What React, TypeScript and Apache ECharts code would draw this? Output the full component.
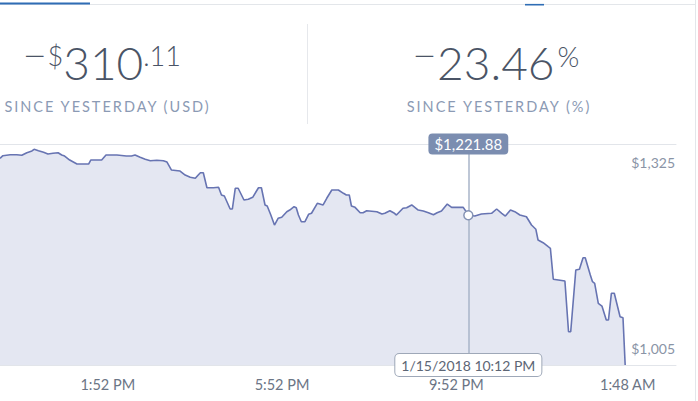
import React, { useEffect, useRef } from "react";
import * as echarts from "echarts";

// minutes since midnight, Jan 15 2018 (values > 1440 are after midnight)
const times = [
  687, 691, 701, 710, 717, 724, 731, 734, 740, 747, 753, 760, 767, 772, 776, 783, 793, 809, 812, 827,
  833, 848, 861, 868, 873, 880, 887, 894, 903, 912, 917, 923, 935, 942, 949, 956, 960, 963, 967, 972,
  981, 988, 992, 996, 1004, 1007, 1011, 1015, 1023, 1029, 1035, 1043, 1047, 1052, 1055, 1060, 1065, 1070, 1075, 1082,
  1086, 1092, 1095, 1098, 1102, 1107, 1112, 1116, 1124, 1132, 1137, 1144, 1153, 1160, 1164, 1168, 1171, 1176, 1183, 1187,
  1192, 1206, 1213, 1217, 1224, 1229, 1233, 1242, 1247, 1254, 1263, 1270, 1277, 1284, 1289, 1295, 1303, 1309, 1316, 1325,
  1330, 1332, 1341, 1350, 1364, 1371, 1378, 1383, 1390, 1396, 1403, 1412, 1419, 1425, 1428, 1435, 1442, 1445, 1449, 1456,
  1465, 1470, 1473, 1480, 1485, 1490, 1493, 1500, 1503, 1506, 1511, 1516, 1522, 1525, 1529, 1533, 1541, 1545, 1548,
];
const prices = [
  1304.3, 1308.1, 1309.5, 1309.5, 1308.6, 1312.4, 1314.9, 1317.3, 1315.3, 1313.0, 1310.5, 1311.5, 1312.4, 1309.1, 1307.6, 1301.8, 1296.0, 1296.0, 1301.8, 1301.8,
  1309.1, 1309.1, 1307.6, 1307.6, 1309.1, 1305.7, 1302.8, 1300.8, 1301.4, 1300.8, 1298.9, 1287.4, 1285.9, 1280.1, 1276.8, 1275.3, 1280.1, 1283.4, 1283.4, 1261.7,
  1261.7, 1262.3, 1251.2, 1249.7, 1230.9, 1230.9, 1260.9, 1260.9, 1243.9, 1244.9, 1247.8, 1261.7, 1261.7, 1236.7, 1235.2, 1222.2, 1207.7, 1217.4, 1218.9, 1227.0,
  1229.4, 1234.2, 1232.8, 1222.2, 1212.5, 1212.5, 1223.2, 1224.7, 1239.1, 1236.7, 1246.4, 1258.4, 1258.4, 1253.6, 1251.2, 1251.2, 1235.2, 1233.3, 1225.5, 1225.5,
  1228.4, 1227.0, 1223.6, 1224.7, 1228.4, 1225.5, 1222.2, 1231.9, 1232.8, 1236.7, 1229.4, 1228.0, 1225.5, 1222.6, 1225.5, 1228.0, 1238.1, 1233.3, 1233.3, 1233.3,
  1225.5, 1221.88, 1220.7, 1223.6, 1224.7, 1230.9, 1224.7, 1220.7, 1229.4, 1227.0, 1222.2, 1219.7, 1207.7, 1201.5, 1186.0, 1182.1, 1176.3, 1174.0, 1129.1, 1128.1,
  1126.6, 1053.2, 1053.2, 1142.6, 1143.6, 1160.4, 1160.4, 1135.3, 1125.6, 1123.3, 1094.3, 1090.4, 1070.2, 1070.2, 1108.8, 1108.8, 1074.9, 1073.5, 1005.0,
];

const tickTimes = [832, 1072, 1312, 1548];
const tickLabels = ["1:52 PM", "5:52 PM", "9:52 PM", "1:48 AM"];

const priceTicks = [1005, 1325];
const priceTickLabels = ["$1,005", "$1,325"];

const hoverTime = 1332;
const hoverPrice = 1221.88;
const hoverPriceLabel = "$1,221.88";
const hoverDateLabel = "1/15/2018 10:12 PM";

const changeUsdSign = "−";
const changeUsdCurrency = "$";
const changeUsdWhole = "310";
const changeUsdCents = ".11";
const changePctSign = "−";
const changePctValue = "23.46";
const changePctUnit = "%";
const changeUsdCaption = "SINCE YESTERDAY (USD)";
const changePctCaption = "SINCE YESTERDAY (%)";

const FONT = "Lato, 'Open Sans', sans-serif";
const DARK = "#4a5466";
const CAPTION = "#8b9ab4";

export default function App() {
  const ref = useRef<HTMLDivElement>(null);

  useEffect(() => {
    if (!ref.current) return;
    const chart = echarts.init(ref.current, undefined, { renderer: "svg" });
    const data = times.map((t, i) => [t, prices[i]]);
    const yMin = priceTicks[0];
    const yMax = priceTicks[priceTicks.length - 1];

    const bigRich = {
      m: { fontSize: 28, fontWeight: 300, fontFamily: "'DejaVu Sans', sans-serif", fill: DARK, verticalAlign: "top", padding: [2.8, 1, 0, 0] },
      s: { fontSize: 27, fontWeight: 300, fontFamily: FONT, fill: DARK, verticalAlign: "top", padding: [3.2, 0, 0, 0] },
      p: { fontSize: 28, fontWeight: 300, fontFamily: FONT, fill: DARK, verticalAlign: "top", padding: [3, 0, 0, 3] },
      b: { fontSize: 46, fontWeight: 300, fontFamily: FONT, fill: DARK, lineHeight: 46, verticalAlign: "top" },
    };

    chart.setOption({
      animation: false,
      backgroundColor: "#ffffff",
      grid: { left: 0, right: 22, top: 144, bottom: 36, containLabel: false },
      xAxis: [
        {
          type: "value",
          min: 687,
          max: 1618,
          axisLine: { show: true, lineStyle: { color: "#e2e5ea", width: 1 } },
          axisTick: { show: false },
          splitLine: { show: false },
          axisLabel: {
            customValues: tickTimes,
            formatter: (v: number) => {
              const i = tickTimes.indexOf(v);
              return i >= 0 ? tickLabels[i] : "";
            },
            color: "#6b7585",
            fontSize: 14.5,
            fontFamily: FONT,
            margin: 12,
            padding: [0, 0, 0, 5],
          },
        },
        {
          type: "value",
          position: "top",
          min: 687,
          max: 1618,
          axisLine: { show: true, lineStyle: { color: "#e2e5ea", width: 1 } },
          axisTick: { show: false },
          axisLabel: { show: false },
          splitLine: { show: false },
        },
      ],
      yAxis: {
        type: "value",
        position: "right",
        min: yMin,
        max: yMax,
        axisLine: { show: false },
        axisTick: { show: false },
        splitLine: { show: false },
        axisLabel: {
          inside: true,
          margin: 1,
          customValues: priceTicks,
          formatter: (v: number) => {
            const i = priceTicks.indexOf(v);
            const txt = i >= 0 ? priceTickLabels[i] : "";
            return v === yMax ? `{top|${txt}}` : `{bot|${txt}}`;
          },
          rich: {
            top: { padding: [36, 0, 0, 0], fontSize: 14, fontFamily: FONT, color: "#8a94a6" },
            bot: { padding: [0, 0, 34, 0], fontSize: 14, fontFamily: FONT, color: "#8a94a6" },
          },
        },
      },
      series: [
        {
          type: "line",
          xAxisIndex: 0,
          data,
          showSymbol: false,
          symbol: "none",
          lineStyle: { color: "#6774b2", width: 1.6 },
          areaStyle: { color: "#e4e7f2", opacity: 1 },
          silent: true,
          markLine: {
            silent: true,
            symbol: ["none", "none"],
            label: { show: false },
            lineStyle: { color: "#a9b5c9", width: 1.5, type: "solid" },
            data: [[{ coord: [hoverTime, yMin] }, { coord: [hoverTime, yMax] }]],
          },
          markPoint: {
            silent: true,
            data: [
              {
                coord: [hoverTime, hoverPrice],
                symbol: "circle",
                symbolSize: 9,
                itemStyle: { color: "#ffffff", borderColor: "#8593b4", borderWidth: 1.5 },
                label: { show: false },
              },
              {
                coord: [hoverTime, yMax],
                symbol: "rect",
                symbolSize: 1,
                itemStyle: { color: "rgba(0,0,0,0)" },
                label: {
                  show: true,
                  position: "inside",
                  formatter: hoverPriceLabel,
                  color: "#ffffff",
                  fontSize: 15,
                  fontFamily: FONT,
                  backgroundColor: "#7b8db0",
                  borderRadius: 4,
                  padding: [3, 6, 3, 6],
                },
              },
              {
                coord: [hoverTime, yMin],
                symbol: "rect",
                symbolSize: 1,
                itemStyle: { color: "rgba(0,0,0,0)" },
                label: {
                  show: true,
                  position: "inside",
                  formatter: hoverDateLabel,
                  color: "#5d6675",
                  fontSize: 14,
                  fontFamily: FONT,
                  backgroundColor: "#ffffff",
                  borderColor: "#9ea8b8",
                  borderWidth: 1,
                  borderRadius: 4,
                  padding: [4, 6, 4, 6],
                },
              },
            ],
          },
        },
      ],
      graphic: [
        { type: "line", silent: true, shape: { x1: 0, y1: 4.5, x2: 695, y2: 4.5 }, style: { stroke: "#e3e6ea", lineWidth: 1 } },
        { type: "line", silent: true, shape: { x1: 0, y1: 3.5, x2: 90, y2: 3.5 }, style: { stroke: "#2f6db5", lineWidth: 2 } },
        { type: "line", silent: true, shape: { x1: 525, y1: 4.7, x2: 544, y2: 4.7 }, style: { stroke: "#2f6db5", lineWidth: 1.6 } },
        { type: "line", silent: true, shape: { x1: 695.5, y1: 0, x2: 695.5, y2: 401 }, style: { stroke: "#e3e6ea", lineWidth: 1 } },
        { type: "line", silent: true, shape: { x1: 307.5, y1: 24, x2: 307.5, y2: 124 }, style: { stroke: "#e6e8ec", lineWidth: 1 } },
        {
          type: "text",
          silent: true,
          x: 102,
          y: 39.2,
          style: {
            text: `{m|${changeUsdSign}}{s|${changeUsdCurrency}}{b|${changeUsdWhole}}{s|${changeUsdCents}}`,
            align: "center",
            verticalAlign: "top",
            rich: bigRich,
          },
        },
        {
          type: "text",
          silent: true,
          x: 496,
          y: 39.2,
          style: {
            text: `{m|${changePctSign}}{b|${changePctValue}}{p|${changePctUnit}}`,
            align: "center",
            verticalAlign: "top",
            rich: bigRich,
          },
        },
        {
          type: "text",
          silent: true,
          x: 107.5,
          y: 106.5,
          style: {
            text: changeUsdCaption,
            align: "center",
            verticalAlign: "middle",
            fontSize: 14.5,
            fontFamily: FONT,
            fill: CAPTION,
          },
        },
        {
          type: "text",
          silent: true,
          x: 499,
          y: 106.5,
          style: {
            text: changePctCaption,
            align: "center",
            verticalAlign: "middle",
            fontSize: 14.5,
            fontFamily: FONT,
            fill: CAPTION,
          },
        },
      ],
    });

    // letter-spaced captions
    const applySpacing = () => {
      ref.current?.querySelectorAll("text").forEach((el) => {
        const t = el.textContent || "";
        if (t === changeUsdCaption || t === changePctCaption) {
          el.setAttribute("letter-spacing", "2");
        }
      });
    };
    applySpacing();
    chart.on("finished", applySpacing);

    return () => {
      chart.dispose();
    };
  }, []);

  return (
    <div
      ref={ref}
      style={{ position: "absolute", left: 0, top: 0, width: 698, height: 401, background: "#fff" }}
    />
  );
}
